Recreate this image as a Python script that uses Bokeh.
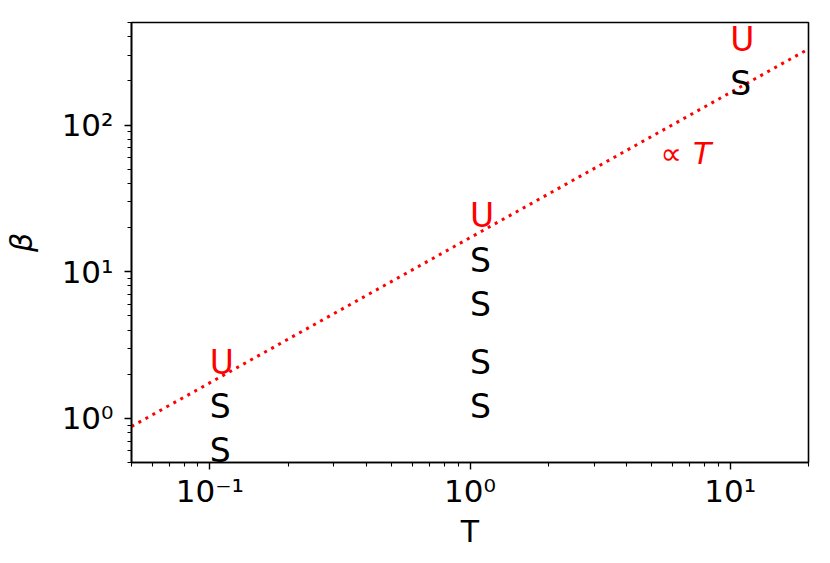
from bokeh.plotting import figure
from bokeh.models import Range1d, FixedTicker, ColumnDataSource
from bokeh.embed import file_html
from bokeh.resources import INLINE
from bokeh.core.properties import value

# ---- data ----
T_S = [0.1, 0.1, 1, 1, 1, 1, 10]
beta_S = [1, 0.5, 10, 5, 2, 1, 160]
T_U = [0.1, 1, 10]
beta_U = [2, 20, 320]
line_T = [0.05, 20]
line_beta = [0.88, 330]
note_T = [5.4, 7.2]
note_beta = [54, 54]
note_text = ["∝", "T"]

x_major = [0.1, 1, 10]
x_major_labels = ["10⁻¹", "10⁰", "10¹"]
y_major = [1, 10, 100]
y_major_labels = ["10⁰", "10¹", "10²"]
x_minor = [0.05, 0.06, 0.07, 0.08, 0.09, 0.2, 0.3, 0.4, 0.5, 0.6, 0.7, 0.8, 0.9,
           2, 3, 4, 5, 6, 7, 8, 9, 20]
y_minor = [0.5, 0.6, 0.7, 0.8, 0.9, 2, 3, 4, 5, 6, 7, 8, 9,
           20, 30, 40, 50, 60, 70, 80, 90, 200, 300, 400, 500]

FONT = "DejaVu Sans"
TXT = 33

p = figure(width=822, height=555, x_axis_type="log", y_axis_type="log",
           x_range=Range1d(0.05, 20), y_range=Range1d(0.5, 500),
           output_backend="svg", toolbar_location=None,
           min_border_left=131, min_border_right=14, min_border_top=22,
           min_border_bottom=93)
p.grid.visible = False
p.outline_line_color = "black"
p.outline_line_width = 1.6
p.background_fill_color = "white"
p.border_fill_color = "white"

for ax, ticks, minor, labels in ((p.xaxis[0], x_major, x_minor, x_major_labels),
                                  (p.yaxis[0], y_major, y_minor, y_major_labels)):
    ax.ticker = FixedTicker(ticks=ticks, minor_ticks=minor)
    ax.major_label_overrides = {t: l for t, l in zip(ticks, labels)}
    ax.major_label_text_font = FONT
    ax.major_label_text_font_size = "31px"
    ax.major_label_text_color = "black"
    ax.axis_label_text_font = FONT
    ax.axis_label_text_font_size = "30px"
    ax.axis_label_text_color = "black"
    ax.axis_line_width = 1.6
    ax.major_tick_line_width = 1.4
    ax.minor_tick_line_width = 1.1
    ax.major_tick_out = 7
    ax.major_tick_in = 0
    ax.minor_tick_out = 4
    ax.minor_tick_in = 0

p.xaxis[0].axis_label = "T"
p.xaxis[0].axis_label_text_font_style = "normal"
p.xaxis[0].major_label_standoff = 3
p.xaxis[0].axis_label_standoff = 2
p.yaxis[0].axis_label = "β"
p.yaxis[0].axis_label_text_font_style = "italic"
p.yaxis[0].major_label_standoff = 11
p.yaxis[0].axis_label_standoff = 20

p.line(line_T, line_beta, line_color="red", line_width=3, line_dash="3 5")

p.text(x=T_S, y=beta_S, text=["S"] * len(T_S), text_color="black",
       text_font=value(FONT), text_font_size=f"{TXT}px",
       text_align="left", text_baseline="middle", y_offset=-0.35 * TXT)
p.text(x=T_U, y=beta_U, text=["U"] * len(T_U), text_color="red",
       text_font=value(FONT), text_font_size=f"{TXT}px",
       text_align="left", text_baseline="middle", y_offset=-0.35 * TXT)
src = ColumnDataSource(dict(x=note_T, y=note_beta, t=note_text,
                            style=["normal", "italic"]))
p.text(x="x", y="y", text="t", source=src, text_color="red",
       text_font=value(FONT), text_font_size="30px", text_font_style="style",
       text_align="left", text_baseline="middle", y_offset=-0.35 * 30)

open("out.html", "w").write(file_html(p, INLINE))
